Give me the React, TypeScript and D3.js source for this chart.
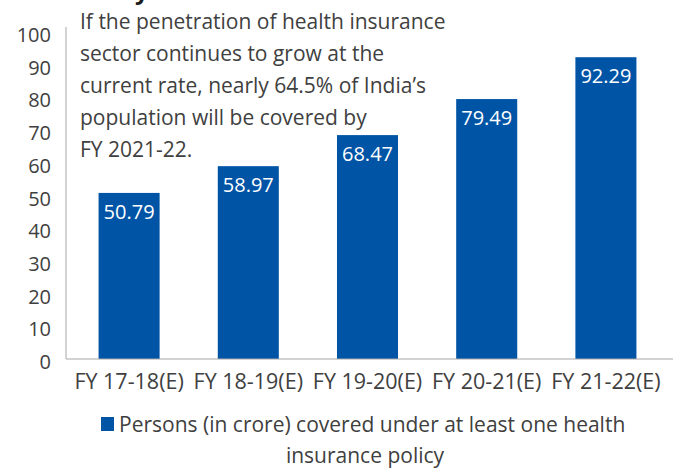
import React, { useRef, useEffect } from "react";
import * as d3 from "d3";

const years = ["FY 17-18(E)", "FY 18-19(E)", "FY 19-20(E)", "FY 20-21(E)", "FY 21-22(E)"];
const persons = [50.79, 58.97, 68.47, 79.49, 92.29];
const yTicks = [0, 10, 20, 30, 40, 50, 60, 70, 80, 90, 100];
const noteLines = [
  "If the penetration of health insurance",
  "sector continues to grow at the",
  "current rate, nearly 64.5% of India\u2019s",
  "population will be covered by",
  "FY 2021-22.",
];
const legendLines = ["Persons (in crore) covered under at least one health", "insurance policy"];

const W = 682;
const H = 468;
const FONT = "'Open Sans', sans-serif";
const TEXT = "#404040";
const BLUE = "#0054a6";

export default function App() {
  const svgRef = useRef<SVGSVGElement>(null);

  useEffect(() => {
    const svg = d3.select(svgRef.current);
    svg.selectAll("*").remove();

    const x = d3.scaleBand().domain(years).range([64, 671]).paddingInner(0.488).paddingOuter(0.29);
    const y = d3.scaleLinear().domain([0, 100]).range([359, 32]);

    // cut-off title descender at the very top
    svg.append("text").attr("x", 135).attr("y", -1).attr("font-family", FONT)
      .attr("font-size", 24).attr("font-weight", "bold").attr("fill", "#1a1a1a").text("y");

    // y axis
    svg.append("line").attr("x1", 66).attr("x2", 66).attr("y1", 27).attr("y2", 359)
      .attr("stroke", "#a6a6a6").attr("stroke-width", 1);
    svg.selectAll(".ytick").data(yTicks).join("text").attr("class", "ytick")
      .attr("x", 51).attr("y", (d) => y(d) + 10)
      .attr("text-anchor", "end")
      .attr("font-family", FONT).attr("font-size", 20).attr("fill", TEXT)
      .text((d) => d);

    // bars
    svg.selectAll(".bar").data(persons).join("rect").attr("class", "bar")
      .attr("x", (d, i) => x(years[i])!).attr("width", x.bandwidth())
      .attr("y", (d) => y(d)).attr("height", (d) => y(0) - y(d))
      .attr("fill", BLUE);

    svg.selectAll(".val").data(persons).join("text").attr("class", "val")
      .attr("x", (d, i) => x(years[i])! + x.bandwidth() / 2)
      .attr("y", (d) => y(d) + 26).attr("text-anchor", "middle")
      .attr("font-family", FONT).attr("font-size", 20).attr("fill", "#fff")
      .text((d) => d.toFixed(2));

    // x axis
    svg.append("line").attr("x1", 66).attr("x2", 673).attr("y1", 359).attr("y2", 359)
      .attr("stroke", "#a6a6a6").attr("stroke-width", 1);
    svg.selectAll(".xlab").data(years).join("text").attr("class", "xlab")
      .attr("x", (d) => x(d)! + x.bandwidth() / 2).attr("y", 389)
      .attr("text-anchor", "middle").attr("font-family", FONT).attr("font-size", 21.5)
      .attr("fill", TEXT).text((d) => d);

    // annotation
    svg.selectAll(".note").data(noteLines).join("text").attr("class", "note")
      .attr("x", 80).attr("y", (d, i) => 29 + i * 32)
      .attr("font-family", FONT).attr("font-size", 21).attr("fill", TEXT)
      .text((d) => d);

    // legend
    svg.append("rect").attr("x", 101).attr("y", 417).attr("width", 13).attr("height", 14).attr("fill", BLUE);
    svg.selectAll(".leg").data(legendLines).join("text").attr("class", "leg")
      .attr("x", (d, i) => (i === 0 ? 119 : 365)).attr("y", (d, i) => 432 + i * 31)
      .attr("text-anchor", (d, i) => (i === 0 ? "start" : "middle"))
      .attr("font-family", FONT).attr("font-size", 21).attr("fill", TEXT)
      .text((d) => d);
  }, []);

  return (
    <svg ref={svgRef} width={W} height={H}
      style={{ position: "absolute", left: 0, top: 0, background: "#fff" }} />
  );
}
